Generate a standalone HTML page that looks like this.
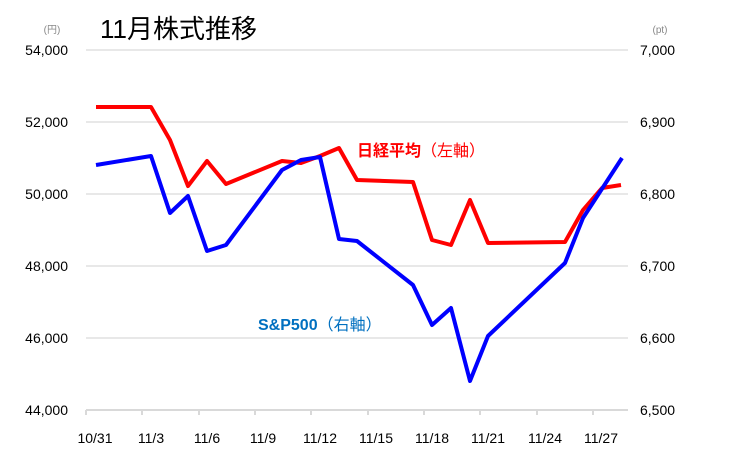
<!DOCTYPE html>
<html><head><meta charset="utf-8"><style>body{margin:0;background:#fff}svg{display:block}</style></head><body>
<svg width="750" height="469" viewBox="0 0 750 469" xmlns="http://www.w3.org/2000/svg" font-family="Liberation Sans, Noto Sans CJK JP, sans-serif">
<rect width="750" height="469" fill="#fff"/>
<g stroke="#d9d9d9" stroke-width="1.3">
<line x1="86" y1="50" x2="628" y2="50"/>
<line x1="86" y1="122" x2="628" y2="122"/>
<line x1="86" y1="194" x2="628" y2="194"/>
<line x1="86" y1="266" x2="628" y2="266"/>
<line x1="86" y1="338" x2="628" y2="338"/>
</g>
<g stroke="#d9d9d9" stroke-width="2">
<line x1="86" y1="410" x2="628" y2="410"/>
<line x1="86" y1="410" x2="86" y2="415"/><line x1="142" y1="410" x2="142" y2="415"/><line x1="199" y1="410" x2="199" y2="415"/><line x1="255" y1="410" x2="255" y2="415"/><line x1="311" y1="410" x2="311" y2="415"/><line x1="368" y1="410" x2="368" y2="415"/><line x1="424" y1="410" x2="424" y2="415"/><line x1="480" y1="410" x2="480" y2="415"/><line x1="537" y1="410" x2="537" y2="415"/><line x1="593" y1="410" x2="593" y2="415"/>
</g>
<text x="100" y="38" font-size="26" fill="#000">11月株式推移</text>
<g font-size="14" fill="#000" text-anchor="end">
<text x="68" y="55">54,000</text><text x="68" y="127">52,000</text><text x="68" y="199">50,000</text><text x="68" y="271">48,000</text><text x="68" y="343">46,000</text><text x="68" y="415">44,000</text>
</g>
<g font-size="14" fill="#000" text-anchor="start">
<text x="640" y="55">7,000</text><text x="640" y="127">6,900</text><text x="640" y="199">6,800</text><text x="640" y="271">6,700</text><text x="640" y="343">6,600</text><text x="640" y="415">6,500</text>
</g>
<text x="52" y="33" font-size="10" fill="#888" text-anchor="middle">(円)</text>
<text x="660" y="33" font-size="10" fill="#888" text-anchor="middle">(pt)</text>
<g font-size="14" fill="#000" text-anchor="middle">
<text x="95" y="443">10/31</text><text x="151" y="443">11/3</text><text x="207" y="443">11/6</text><text x="263" y="443">11/9</text><text x="320" y="443">11/12</text><text x="376" y="443">11/15</text><text x="432" y="443">11/18</text><text x="488" y="443">11/21</text><text x="545" y="443">11/24</text><text x="601" y="443">11/27</text>
</g>
<polyline fill="none" stroke="#ff0000" stroke-width="4" stroke-linejoin="round" points="96,107 151,107 170,140 188,186 207,161 226,184 282,161 301,163 320,156 339,148 357,180 413,182 432,240 451,245 470,200 488,243 565,242 583,210 602,188 621,185"/>
<polyline fill="none" stroke="#0000ff" stroke-width="4" stroke-linejoin="round" points="96,165 151,156 170,213 188,196 207,251 226,245 282,170 301,160 320,157 339,239 357,241 413,285 432,325 451,308 470,381 488,336 565,263 583,218 622,158"/>
<text x="357" y="156" font-size="16" fill="#ff0000" font-weight="bold">日経平均<tspan font-weight="normal">（左軸）</tspan></text>
<text x="258" y="330" font-size="16" fill="#0070c0" font-weight="bold">S&amp;P500<tspan font-weight="normal">（右軸）</tspan></text>
</svg>
</body></html>
